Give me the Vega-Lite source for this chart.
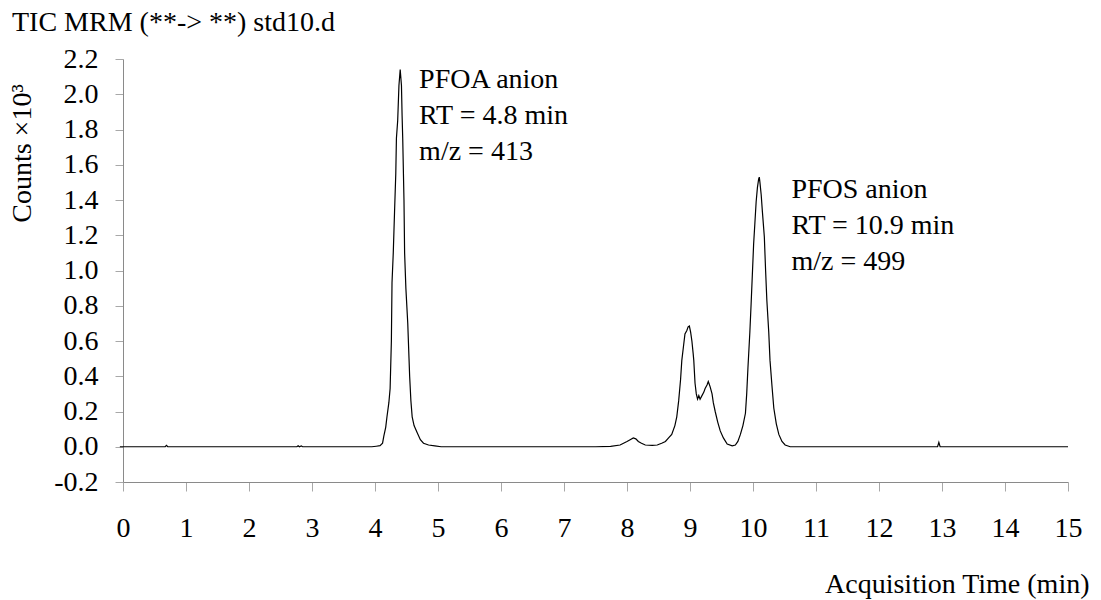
{
  "$schema": "https://vega.github.io/schema/vega-lite/v6.json",
  "autosize": {"type": "none"},
  "padding": {"left": 123, "top": 59, "right": 33, "bottom": 118},
  "width": 945,
  "height": 423,
  "background": "white",
  "config": {
    "view": {"stroke": null},
    "font": "Liberation Serif",
    "axis": {"grid": false, "labelFont": "Liberation Serif", "titleFont": "Liberation Serif", "labelFontSize": 28, "titleFontSize": 28, "labelColor": "#000", "titleColor": "#000", "titleFontWeight": "normal", "domainColor": "#8a8a8a", "tickColor": "#a8a8a8", "domainWidth": 1, "tickWidth": 1, "labelOverlap": false}
  },
  "title": {
    "text": "TIC MRM (**-> **) std10.d",
    "anchor": "start",
    "frame": "group",
    "font": "Liberation Serif",
    "fontSize": 28,
    "fontWeight": "normal",
    "color": "#000",
    "dx": -111,
    "baseline": "alphabetic",
    "offset": -14
  },
  "datasets": {
    "tic": [
      {"t": -0.05, "c": 0}, {"t": 0.67, "c": 0}, {"t": 0.69, "c": 0.008}, {"t": 0.71, "c": 0},
      {"t": 2.76, "c": 0}, {"t": 2.78, "c": 0.006}, {"t": 2.8, "c": 0}, {"t": 2.83, "c": 0.005}, {"t": 2.85, "c": 0},
      {"t": 3.95, "c": 0}, {"t": 4.02, "c": 0.003}, {"t": 4.08, "c": 0.006}, {"t": 4.12, "c": 0.02},
      {"t": 4.14, "c": 0.06}, {"t": 4.17, "c": 0.11}, {"t": 4.19, "c": 0.17}, {"t": 4.22, "c": 0.25},
      {"t": 4.24, "c": 0.33}, {"t": 4.26, "c": 0.6}, {"t": 4.27, "c": 0.93}, {"t": 4.29, "c": 1.1},
      {"t": 4.31, "c": 1.33}, {"t": 4.33, "c": 1.55}, {"t": 4.34, "c": 1.75}, {"t": 4.36, "c": 1.85},
      {"t": 4.38, "c": 2.05}, {"t": 4.4, "c": 2.14}, {"t": 4.42, "c": 2.05}, {"t": 4.43, "c": 1.88},
      {"t": 4.44, "c": 1.75}, {"t": 4.46, "c": 1.4}, {"t": 4.47, "c": 1.1}, {"t": 4.49, "c": 0.9},
      {"t": 4.52, "c": 0.7}, {"t": 4.54, "c": 0.5}, {"t": 4.55, "c": 0.4}, {"t": 4.57, "c": 0.26},
      {"t": 4.59, "c": 0.17}, {"t": 4.62, "c": 0.12}, {"t": 4.67, "c": 0.08}, {"t": 4.72, "c": 0.04},
      {"t": 4.77, "c": 0.02}, {"t": 4.85, "c": 0.01}, {"t": 4.95, "c": 0.005}, {"t": 5.05, "c": 0},
      {"t": 7.5, "c": 0}, {"t": 7.74, "c": 0.002}, {"t": 7.89, "c": 0.01}, {"t": 8.0, "c": 0.03},
      {"t": 8.05, "c": 0.04}, {"t": 8.1, "c": 0.05}, {"t": 8.14, "c": 0.045}, {"t": 8.18, "c": 0.03},
      {"t": 8.23, "c": 0.02}, {"t": 8.29, "c": 0.01}, {"t": 8.4, "c": 0.008}, {"t": 8.48, "c": 0.01},
      {"t": 8.55, "c": 0.02}, {"t": 8.61, "c": 0.03}, {"t": 8.66, "c": 0.05}, {"t": 8.71, "c": 0.07},
      {"t": 8.76, "c": 0.12}, {"t": 8.79, "c": 0.17}, {"t": 8.82, "c": 0.26}, {"t": 8.85, "c": 0.38},
      {"t": 8.87, "c": 0.49}, {"t": 8.9, "c": 0.58}, {"t": 8.92, "c": 0.64}, {"t": 8.95, "c": 0.66},
      {"t": 8.97, "c": 0.68}, {"t": 8.99, "c": 0.685}, {"t": 9.01, "c": 0.65}, {"t": 9.03, "c": 0.6},
      {"t": 9.05, "c": 0.53}, {"t": 9.06, "c": 0.49}, {"t": 9.08, "c": 0.36}, {"t": 9.1, "c": 0.3},
      {"t": 9.12, "c": 0.27}, {"t": 9.14, "c": 0.29}, {"t": 9.16, "c": 0.27}, {"t": 9.19, "c": 0.29},
      {"t": 9.22, "c": 0.31}, {"t": 9.24, "c": 0.33}, {"t": 9.27, "c": 0.35}, {"t": 9.29, "c": 0.37},
      {"t": 9.3, "c": 0.36}, {"t": 9.32, "c": 0.34}, {"t": 9.35, "c": 0.3}, {"t": 9.37, "c": 0.25},
      {"t": 9.4, "c": 0.2}, {"t": 9.44, "c": 0.14}, {"t": 9.48, "c": 0.09}, {"t": 9.53, "c": 0.05},
      {"t": 9.59, "c": 0.015}, {"t": 9.67, "c": 0.005}, {"t": 9.72, "c": 0.01}, {"t": 9.76, "c": 0.03},
      {"t": 9.8, "c": 0.07}, {"t": 9.84, "c": 0.12}, {"t": 9.88, "c": 0.19}, {"t": 9.9, "c": 0.3},
      {"t": 9.92, "c": 0.45}, {"t": 9.95, "c": 0.65}, {"t": 9.97, "c": 0.81}, {"t": 9.99, "c": 0.98},
      {"t": 10.01, "c": 1.15}, {"t": 10.03, "c": 1.27}, {"t": 10.05, "c": 1.39}, {"t": 10.07, "c": 1.47},
      {"t": 10.09, "c": 1.52}, {"t": 10.1, "c": 1.53}, {"t": 10.11, "c": 1.5}, {"t": 10.13, "c": 1.43},
      {"t": 10.15, "c": 1.33}, {"t": 10.18, "c": 1.19}, {"t": 10.2, "c": 1.0}, {"t": 10.22, "c": 0.83},
      {"t": 10.25, "c": 0.65}, {"t": 10.27, "c": 0.49}, {"t": 10.3, "c": 0.35}, {"t": 10.33, "c": 0.22},
      {"t": 10.37, "c": 0.13}, {"t": 10.41, "c": 0.07}, {"t": 10.46, "c": 0.03}, {"t": 10.51, "c": 0.01},
      {"t": 10.59, "c": 0}, {"t": 12.93, "c": 0}, {"t": 12.95, "c": 0.025}, {"t": 12.97, "c": 0},
      {"t": 15.0, "c": 0}
    ],
    "notes": [
      {"t": 4.7, "c": 2.079, "label": "PFOA anion"},
      {"t": 4.7, "c": 1.875, "label": "RT = 4.8 min"},
      {"t": 4.7, "c": 1.671, "label": "m/z = 413"},
      {"t": 10.61, "c": 1.456, "label": "PFOS anion"},
      {"t": 10.61, "c": 1.252, "label": "RT = 10.9 min"},
      {"t": 10.61, "c": 1.048, "label": "m/z = 499"}
    ]
  },
  "layer": [
    {
      "data": {"name": "tic"},
      "mark": {"type": "line", "color": "#000", "strokeWidth": 1.2, "clip": false},
      "encoding": {
        "x": {
          "field": "t", "type": "quantitative",
          "scale": {"domain": [0, 15], "nice": false, "zero": false},
          "axis": {
            "values": [0, 1, 2, 3, 4, 5, 6, 7, 8, 9, 10, 11, 12, 13, 14, 15],
            "tickCount": 16,
            "format": "d", "tickSize": 9, "labelPadding": 23, "labelFlush": false,
            "title": "Acquisition Time (min)",
            "titleAnchor": "end", "titleAlign": "right", "titleBaseline": "alphabetic",
            "titleX": 966, "titleY": 110
          }
        },
        "y": {
          "field": "c", "type": "quantitative",
          "scale": {"domain": [-0.2, 2.2], "nice": false, "zero": false},
          "axis": {
            "values": [-0.2, 0, 0.2, 0.4, 0.6, 0.8, 1.0, 1.2, 1.4, 1.6, 1.8, 2.0, 2.2],
            "tickCount": 13,
            "labelExpr": "datum.value < 0 ? '-' + format(-datum.value, '.1f') : format(datum.value, '.1f')",
            "tickSize": 8, "labelPadding": 17, "labelFlush": false,
            "title": "Counts ×10³",
            "titleAngle": 270, "titleAlign": "center", "titleBaseline": "middle",
            "titleX": -101, "titleY": 94
          }
        }
      }
    },
    {
      "data": {"name": "notes"},
      "mark": {"type": "text", "align": "left", "baseline": "middle", "font": "Liberation Serif", "fontSize": 28, "color": "#000"},
      "encoding": {
        "x": {"field": "t", "type": "quantitative"},
        "y": {"field": "c", "type": "quantitative"},
        "text": {"field": "label"}
      }
    }
  ]
}
